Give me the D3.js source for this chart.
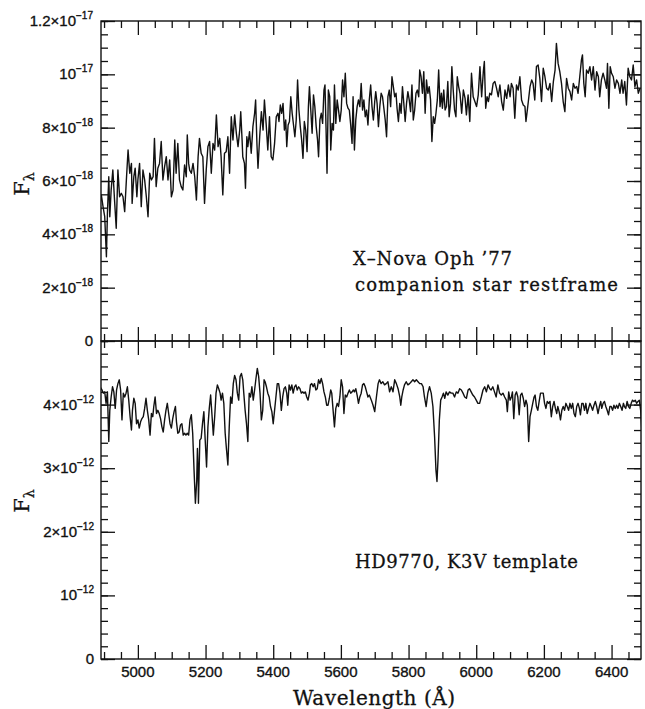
<!DOCTYPE html>
<html lang="en">
<head>
<meta charset="utf-8">
<title>X-Nova Oph '77 companion spectrum</title>
<script src="https://cdn.jsdelivr.net/npm/d3@7"></script>
<style>
  body { margin: 0; background: #fff; }
  svg { display: block; background: #fff; }
  .tick line { stroke: #111; stroke-width: 1.3; }
  .frame { fill: none; stroke: #111; stroke-width: 1.4; }
  .spec { fill: none; stroke: #111; stroke-width: 1.4; stroke-linejoin: round; }
  .num { font-family: "Liberation Sans", Arial, sans-serif; font-size: 15px; fill: #111; stroke: #111; stroke-width: 0.35; }
  .serif { font-family: "DejaVu Serif", serif; fill: #111; stroke: #111; stroke-width: 0.3; }
</style>
</head>
<body>
<script>

// ---- data ----
// top: X-Nova Oph '77, flux in units of 1e-18
var novaUnit = 1e-18;
var novaWave = [
  4888,4892,4897,4902,4907,4910,4914,4917,4921,4926,
  4931,4936,4941,4946,4951,4956,4961,4966,4971,4976,
  4981,4983,4988,4992,4997,5000,5005,5010,5015,5020,
  5025,5030,5035,5040,5045,5049,5054,5059,5064,5069,
  5074,5079,5084,5089,5094,5099,5104,5109,5113,5118,
  5123,5128,5133,5138,5143,5146,5150,5153,5158,5163,
  5168,5173,5178,5182,5187,5192,5197,5202,5207,5212,
  5217,5222,5227,5232,5237,5242,5246,5251,5256,5261,
  5266,5271,5276,5281,5286,5291,5296,5301,5304,5308,
  5310,5315,5318,5322,5325,5330,5335,5340,5345,5348,
  5352,5355,5360,5365,5370,5374,5379,5384,5389,5394,
  5399,5404,5409,5414,
  5417,5421,5425,5429,5433,5437,5440,5444,5448,5452,
  5456,5460,5464,5468,5472,5476,5480,5484,5488,5492,
  5496,5500,5504,5507,5511,5515,5519,5523,5527,5531,
  5534,5538,5542,5546,5550,5553,5556,5559,5563,5567,
  5570,5574,5578,5581,5585,5589,5593,5597,5601,5605,
  5609,5613,5617,5621,5625,5629,5633,5636,5640,5644,
  5648,5652,5656,5660,5664,5668,5672,5676,5680,5684,
  5688,5692,5696,5700,5703,5707,5711,5715,5719,5723,
  5727,5731,5735,5739,5743,5747,5751,5755,5759,5763,
  5766,5770,5774,5778,5782,5786,5790,5794,5798,5802,
  5806,5810,5814,5818,5822,5826,5830,5833,5837,5841,
  5845,5849,5853,5857,5861,5865,5869,5873,5877,5881,
  5885,5889,5893,5897,5900,5904,5908,5912,5916,5920,
  5924,5928,5932,5936,5940,5944,5948,5952,
  5957,5962,5967,5971,5976,5981,5986,5991,5996,6001,
  6006,6011,6016,6021,6024,6028,6032,6036,6040,6045,
  6050,6055,6060,6065,6070,6075,6080,6085,6090,6095,
  6100,6104,6109,6114,6119,6124,6129,6134,6139,6144,
  6147,6151,6154,6159,6164,6168,6173,6178,6183,6188,
  6193,6198,6203,6208,6213,6218,6223,6228,6233,6237,
  6242,6247,6252,6257,6262,6267,6272,6277,6282,6287,
  6292,6297,6301,6306,6311,6314,6318,6322,6326,6331,
  6336,6341,6346,6351,6356,6361,6365,6370,6375,6380,
  6385,6388,6392,6396,6400,6405,6410,6415,6420,6425,
  6430,6434,6439,6444,6449,6454,6459,6464,6469,6474,
  6479,6484
];
var novaFlux = [
  5.10,5.48,5.04,4.66,3.16,4.79,6.16,4.66,5.66,6.41,
  5.29,4.23,6.41,5.41,5.54,5.41,4.85,6.04,7.16,6.29,
  6.66,5.16,6.16,6.48,5.41,6.04,6.66,5.04,6.41,6.04,
  5.41,4.66,6.29,6.04,6.16,7.60,5.79,6.48,6.66,7.48,
  6.04,6.54,6.91,6.04,6.79,5.41,5.66,7.54,6.29,7.41,
  6.04,5.79,5.66,6.60,6.16,7.73,6.66,6.41,6.29,6.66,
  6.16,5.29,6.91,7.60,7.04,6.91,5.16,6.41,7.29,7.48,
  6.29,7.41,7.16,8.48,7.29,7.60,6.91,5.48,7.04,7.10,
  7.66,6.29,8.41,7.54,8.48,7.79,7.29,7.91,8.60,7.54,
  6.91,6.66,5.73,7.66,7.29,7.85,7.04,8.04,8.54,9.04,
  7.35,6.48,7.66,8.60,7.91,9.04,8.16,7.16,8.41,6.91,
  6.79,7.41,8.41,8.54,
  8.23,8.85,8.54,8.91,7.91,8.29,7.29,8.10,8.23,9.16,
  8.54,8.10,7.66,8.29,9.79,8.66,8.04,7.54,6.85,8.23,
  7.91,7.10,8.79,9.54,8.66,7.79,9.23,8.79,8.04,7.54,
  6.91,8.29,8.54,8.16,9.41,9.60,8.04,6.29,9.41,9.16,
  7.16,8.16,7.91,9.60,8.16,9.04,8.66,8.23,8.66,9.79,
  9.16,10.04,8.91,8.73,8.66,8.10,7.41,9.16,7.16,8.29,
  8.79,9.04,8.79,9.66,8.66,9.04,8.41,8.66,8.10,9.04,
  9.60,8.79,8.29,8.98,9.35,8.91,8.04,8.79,9.29,9.16,
  8.73,8.29,7.66,9.16,9.41,8.79,9.91,9.54,9.16,9.29,
  8.73,8.23,8.91,8.54,9.54,8.91,8.23,8.91,9.35,9.04,
  8.60,9.60,8.29,8.66,9.29,9.41,9.16,10.16,9.91,9.29,
  10.10,8.54,9.79,9.29,9.54,9.04,7.48,8.41,8.16,8.54,
  9.04,10.16,8.79,9.29,8.73,9.41,8.66,8.79,9.73,8.41,
  8.91,10.29,9.41,8.66,8.41,9.91,9.54,9.29,
  8.54,9.41,9.10,8.48,9.23,8.23,10.04,9.16,8.98,8.79,
  9.23,10.29,9.16,10.10,10.48,8.73,9.16,8.98,9.29,9.23,
  9.66,9.73,9.48,9.16,9.60,8.98,8.66,9.41,9.10,9.60,
  9.16,9.66,9.48,8.35,9.60,9.41,9.91,9.04,8.85,8.79,
  8.23,8.66,8.98,9.54,9.79,9.66,9.04,10.29,10.35,9.85,
  8.98,10.23,9.91,9.48,9.41,9.66,8.98,9.73,10.16,11.16,
  10.41,10.10,9.66,8.98,8.60,9.85,9.48,9.35,9.04,9.66,
  9.48,9.54,9.29,9.91,10.54,10.73,9.66,9.16,10.16,10.04,
  10.29,9.79,10.29,9.41,10.10,9.91,9.16,9.79,10.04,9.79,
  9.48,10.41,8.73,10.29,10.04,9.91,9.48,9.79,9.66,9.29,
  9.79,9.29,9.73,8.85,10.23,9.91,9.79,10.35,9.54,9.79,
  9.29,9.48
];

// bottom: HD9770 K3V template, flux in units of 1e-12
var tmplUnit = 1e-12;
var tmplWave = [
  4888,4894,4898,4902,4906,4910,4914,4917,4921,4925,
  4929,4933,4937,4941,4945,4949,4953,4957,4961,4965,
  4969,4973,4977,4981,4984,4988,4992,4996,5000,5004,
  5008,5012,5016,5020,5024,5028,5032,5036,5040,5044,
  5047,5051,5055,5059,5063,5067,5071,5075,5079,5083,
  5087,5091,5095,5099,5103,5107,5111,5114,5118,5122,
  5126,5130,5134,5138,5142,5146,5150,5154,5158,5162,
  5166,5170,5174,5176,5178,5179,5183,5187,5191,5195,
  5199,5203,5207,5211,5215,5219,5223,5227,5231,5235,
  5239,5243,5246,5250,5254,5258,5262,5266,5270,5274,
  5278,5282,5286,5290,5294,5298,5302,5306,5310,5313,
  5317,5321,5325,5329,5333,5337,5341,5345,5349,5353,
  5357,5361,5365,5369,5373,5376,5380,5384,5388,5392,
  5396,5400,5404,5408,5412,5416,5420,5424,5428,5432,
  5436,5440,5443,5447,5451,5455,5459,5463,5467,5471,
  5475,5479,5483,5487,5491,5495,5499,5503,5507,5510,
  5514,5518,5522,5526,5530,5534,5538,5542,5546,5550,
  5554,5558,5562,5566,5570,5573,5577,5581,5585,5589,
  5593,5597,5601,5605,5609,5613,5617,5621,5625,5629,
  5633,5637,5640,5644,5648,5652,5656,5660,5664,5668,
  5672,5676,5680,5684,
  5690,5695,5700,5705,5710,5714,5719,5724,5729,5734,
  5739,5744,5749,5754,5759,5764,5769,5774,5777,5780,
  5784,5788,5793,5798,5803,5808,5813,5818,5823,5828,
  5833,5838,5843,5847,5852,5857,5862,5867,5872,5877,
  5881,5884,5887,5891,5895,5899,5903,5907,5911,5916,
  5921,5926,5931,5936,5941,5946,5951,5956,5961,5966,
  5971,5976,5980,5985,5990,5995,6000,6005,6010,6015,
  6020,6025,6030,6035,6040,6044,6049,6054,6059,6064,
  6069,6074,6079,6084,6089,6092,6096,6100,6104,6107,
  6111,6115,6119,6123,6127,6131,6135,6139,6143,6147,
  6151,6155,6159,6163,6167,6171,6174,6178,6182,6186,
  6190,6194,6198,6202,6206,6210,6214,6218,6222,6226,
  6230,6234,6238,6241,6245,6249,6253,6257,6261,6265,
  6269,6273,6277,6281,6285,6289,6293,6297,6301,6305,
  6308,6312,6316,6320,6324,6328,6332,6336,6340,6344,
  6348,6352,6356,6360,6364,6368,6371,6375,6379,6383,
  6387,6391,6395,6399,6403,6407,6411,6415,6419,6423,
  6427,6431,6435,6438,6442,6446,6450,6454,6458,6462,
  6466,6470,6474,6478,6482,6486,6490
];
var tmplFlux = [
  4.28,4.23,4.18,4.20,4.02,4.20,3.42,3.91,4.12,4.28,
  4.20,3.94,4.23,4.33,4.39,4.23,3.76,4.18,4.12,4.18,
  4.28,4.07,3.81,3.60,3.91,4.10,4.02,3.70,3.76,3.63,
  3.73,3.78,3.81,3.94,4.10,3.91,3.76,3.52,3.86,3.81,
  3.97,4.12,3.86,3.91,3.86,3.78,3.65,3.57,3.76,3.91,
  4.02,3.86,3.70,3.63,3.78,3.89,3.97,3.73,3.55,3.57,
  3.68,3.70,3.52,3.55,3.52,3.55,3.52,3.76,3.84,3.55,
  2.97,2.45,2.81,3.31,2.97,2.45,3.44,3.47,3.70,3.89,
  3.44,3.02,3.65,3.94,4.15,3.84,3.52,3.81,4.18,4.31,
  4.25,4.18,4.07,4.18,4.02,3.55,3.29,3.05,3.65,4.12,
  4.02,4.33,4.46,4.39,4.18,4.07,4.44,4.49,4.39,4.18,
  3.91,3.70,3.42,4.18,4.12,4.28,4.07,4.23,4.41,4.57,
  4.44,4.18,3.76,3.91,4.39,4.36,4.28,4.18,4.12,3.97,
  3.89,3.70,3.91,4.12,4.33,4.33,4.18,3.91,4.12,4.25,
  4.28,4.18,3.99,4.31,4.23,4.31,4.18,4.28,4.31,4.23,
  4.28,4.25,4.18,4.20,4.18,4.20,4.12,4.07,4.18,4.31,
  4.33,4.28,4.33,4.23,4.25,4.39,4.33,4.41,4.33,4.20,
  4.12,3.99,3.99,4.10,4.23,4.18,3.91,3.65,3.94,4.02,
  3.97,4.12,4.39,4.28,3.86,4.15,4.12,4.18,4.23,4.18,
  4.20,4.23,4.20,4.25,4.15,4.02,4.12,4.18,4.31,4.33,
  4.28,4.20,4.12,4.15,
  4.07,3.99,3.89,4.12,4.33,4.39,4.33,4.36,4.31,4.33,
  4.36,4.20,4.28,4.20,4.39,4.33,4.25,4.12,3.99,4.12,
  4.23,4.31,4.36,4.31,4.33,4.36,4.39,4.36,4.39,4.36,
  4.33,4.33,4.28,4.12,3.97,4.18,4.28,4.18,3.97,3.49,
  2.97,2.79,3.13,3.76,4.07,4.12,4.18,4.10,4.20,4.15,
  4.20,4.18,4.18,4.12,4.20,4.18,4.25,4.23,4.18,4.12,
  4.10,4.23,4.25,4.20,4.15,4.12,4.07,4.02,4.02,4.12,
  4.23,4.28,4.20,4.31,4.25,4.23,4.28,4.20,4.12,4.31,
  4.18,4.15,4.18,4.12,4.07,3.89,4.20,4.07,4.12,4.20,
  3.78,4.15,4.20,4.12,3.84,4.15,4.18,4.10,3.97,4.07,
  3.99,3.42,3.81,3.91,4.02,4.12,4.15,3.97,3.91,4.05,
  4.18,4.18,4.18,4.02,3.94,4.05,4.02,4.05,3.81,3.97,
  4.05,3.94,3.86,3.97,3.89,3.76,3.91,3.97,3.91,4.02,
  3.97,3.91,4.02,3.94,4.02,3.86,3.81,3.97,4.02,3.94,
  3.84,4.02,4.02,3.91,4.02,3.86,3.94,4.02,3.97,3.91,
  3.99,4.05,3.97,3.86,3.97,4.05,3.94,4.02,4.05,3.97,
  3.91,3.84,3.97,3.97,3.91,3.99,3.94,3.99,3.94,4.02,
  3.97,3.91,4.02,3.97,3.94,4.05,3.97,3.94,4.02,4.07,
  4.05,4.07,4.02,4.05,4.07,3.91,3.55
];

// axis ticks and labels
var xMajorTicks = [5000, 5200, 5400, 5600, 5800, 6000, 6200, 6400];
var xMinorStep = 50;

var topTicks   = [0, 2e-18, 4e-18, 6e-18, 8e-18, 1e-17, 1.2e-17];
var topBase    = ["0", "2×10", "4×10", "6×10", "8×10", "10", "1.2×10"];
var topExp     = ["", "−18", "−18", "−18", "−18", "−17", "−17"];
var topMinor   = 5e-19;

var botTicks   = [0, 1e-12, 2e-12, 3e-12, 4e-12];
var botBase    = ["0", "10", "2×10", "3×10", "4×10"];
var botExp     = ["", "−12", "−12", "−12", "−12"];
var botMinor   = 2e-13;

var novaNote   = ["X\u2013Nova Oph \u201977", "companion star restframe"];
var tmplNote   = "HD9770, K3V template";

// ---- layout ----
var left = 101, right = 641;
var topY0 = 21, midY = 341, botY1 = 659;

var svg = d3.select("body").append("svg")
            .attr("width", 645)
            .attr("height", 709);

var x = d3.scaleLinear().domain([4891, 6487]).range([left, right]);
var yTop = d3.scaleLinear().domain([0, 1.2e-17]).range([midY, topY0]);
var yBot = d3.scaleLinear().domain([0, 5e-12]).range([botY1, midY]);

var xMinorTicks = d3.range(4900, 6487, xMinorStep).filter(function(v) {
  return xMajorTicks.indexOf(v) < 0;
});

function minorVals(max, step) {
  var n = Math.round(max / step), out = [];
  for (var i = 0; i <= n; i++) out.push(i * step);
  return out;
}

// clip paths
var defs = svg.append("defs");
defs.append("clipPath").attr("id", "clipTop").append("rect")
    .attr("x", left).attr("y", topY0).attr("width", right - left).attr("height", midY - topY0);
defs.append("clipPath").attr("id", "clipBot").append("rect")
    .attr("x", left).attr("y", midY).attr("width", right - left).attr("height", botY1 - midY);

// spectra
var novaLine = d3.line()
  .x(function(d) { return x(d[0]); })
  .y(function(d) { return yTop(d[1] * novaUnit); });
var tmplLine = d3.line()
  .x(function(d) { return x(d[0]); })
  .y(function(d) { return yBot(d[1] * tmplUnit); });

svg.append("path").attr("class", "spec").attr("clip-path", "url(#clipTop)")
   .attr("d", novaLine(d3.zip(novaWave, novaFlux)));
svg.append("path").attr("class", "spec").attr("clip-path", "url(#clipBot)")
   .attr("d", tmplLine(d3.zip(tmplWave, tmplFlux)));

// ticks: everything points into the panels
function ticks(axis, tx, ty) {
  svg.append("g").attr("transform", "translate(" + tx + "," + ty + ")")
     .call(axis.tickFormat("").tickSizeOuter(0))
     .call(function(g) { g.select(".domain").remove(); });
}

function xTicks(y, fn) {
  ticks(fn(x).tickValues(xMajorTicks).tickSizeInner(-14), 0, y);
  ticks(fn(x).tickValues(xMinorTicks).tickSizeInner(-7), 0, y);
}
xTicks(topY0, d3.axisTop);
xTicks(midY, d3.axisBottom);
xTicks(midY, d3.axisTop);
xTicks(botY1, d3.axisBottom);

function yTicks(scale, major, minor, max) {
  var mv = minorVals(max, minor);
  ticks(d3.axisLeft(scale).tickValues(major).tickSizeInner(-14), left, 0);
  ticks(d3.axisLeft(scale).tickValues(mv).tickSizeInner(-7), left, 0);
  ticks(d3.axisRight(scale).tickValues(major).tickSizeInner(-14), right, 0);
  ticks(d3.axisRight(scale).tickValues(mv).tickSizeInner(-7), right, 0);
}
yTicks(yTop, topTicks, topMinor, 1.2e-17);
yTicks(yBot, botTicks, botMinor, 5e-12);

// frames
svg.append("rect").attr("class", "frame")
   .attr("x", left).attr("y", topY0).attr("width", right - left).attr("height", midY - topY0);
svg.append("rect").attr("class", "frame")
   .attr("x", left).attr("y", midY).attr("width", right - left).attr("height", botY1 - midY);

// y tick labels with superscript exponents
function yLabels(scale, vals, base, exps, xr) {
  vals.forEach(function(v, i) {
    var t = svg.append("text").attr("class", "num")
               .attr("x", xr).attr("y", scale(v) + 5)
               .attr("text-anchor", "end");
    t.append("tspan").text(base[i]);
    if (exps[i]) {
      t.append("tspan").attr("dy", -7).style("font-size", "10px").text(exps[i]);
    }
  });
}
yLabels(yTop, topTicks, topBase, topExp, left - 8);
yLabels(yBot, botTicks, botBase, botExp, left - 7);

// x tick labels
svg.selectAll("text.xl").data(xMajorTicks).enter().append("text")
   .attr("class", "num xl")
   .attr("x", function(d) { return x(d); })
   .attr("y", 677)
   .attr("text-anchor", "middle")
   .text(function(d) { return d; });

// axis titles
svg.append("text").attr("class", "serif")
   .attr("x", 293).attr("y", 705)
   .attr("textLength", 162).attr("lengthAdjust", "spacing")
   .style("font-size", "20px")
   .text("Wavelength (Å)");

function fLambda(cy) {
  var t = svg.append("text").attr("class", "serif")
             .attr("transform", "translate(29," + cy + ") rotate(-90)")
             .attr("text-anchor", "middle")
             .style("font-size", "21px");
  t.append("tspan").text("F");
  t.append("tspan").attr("dy", 5).style("font-size", "14px").text("λ");
}
fLambda(184);
fLambda(501);

// annotations
svg.append("text").attr("class", "serif")
   .attr("x", 353).attr("y", 265)
   .attr("textLength", 159).attr("lengthAdjust", "spacing")
   .style("font-size", "18px").text(novaNote[0]);
svg.append("text").attr("class", "serif")
   .attr("x", 355).attr("y", 291)
   .attr("textLength", 263).attr("lengthAdjust", "spacing")
   .style("font-size", "18px").text(novaNote[1]);
svg.append("text").attr("class", "serif")
   .attr("x", 355).attr("y", 568)
   .attr("textLength", 223).attr("lengthAdjust", "spacing")
   .style("font-size", "18px").text(tmplNote);

</script>
</body>
</html>
